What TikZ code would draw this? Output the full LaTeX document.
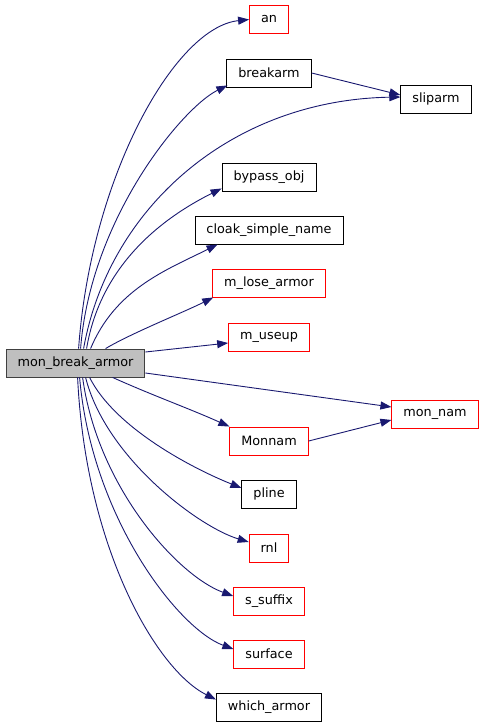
\documentclass[tikz,border=0pt]{standalone}
\usepackage{fontspec}
\setmainfont{DejaVu Sans}
\usetikzlibrary{calc,arrows.meta}

\begin{document}
\begin{tikzpicture}[x=1pt, y=-1pt,
    every node/.style={rectangle, draw, line width=0.9pt, inner xsep=11.5pt, minimum height=28pt, fill=white, font=\fontsize{12.8}{14}\selectfont},
    ext/.style={draw=red},
    call/.style={draw={rgb,255:red,25;green,25;blue,112}, line width=0.9pt, -{Triangle[length=11pt,width=8pt]}}]
    \useasboundingbox (0,0) rectangle (485,728);
    \node[fill={rgb,255:red,191;green,191;blue,191}, draw={rgb,255:red,64;green,64;blue,64}] (mba) at (75.5,363) {mon\_break\_armor};
    \node[ext] (an) at (269,19.5) {an};
    \node (breakarm) at (269,73) {breakarm};
    \node (sliparm) at (436,99) {sliparm};
    \node (bypass) at (269,177) {bypass\_obj};
    \node (cloak) at (269,230) {cloak\_simple\_name};
    \node[ext] (mlose) at (269,283) {m\_lose\_armor};
    \node[ext] (museup) at (269,337) {m\_useup};
    \node[ext] (monnam) at (435,414) {mon\_nam};
    \node[ext] (Monnam) at (269,441) {Monnam};
    \node (pline) at (269,494) {pline};
    \node[ext] (rnl) at (269,548) {rnl};
    \node[ext] (ssuffix) at (269,601) {s\_suffix};
    \node[ext] (surface) at (269,654) {surface};
    \node (which) at (269,707) {which\_armor};
    % calls going up
    \draw[call] ($(mba.north west)+(73,0)$) .. controls +(12,-170) and +(-75,8) .. (an.west);
    \draw[call] ($(mba.north west)+(75,0)$) .. controls +(10,-130) and +(-45,22) .. ($(breakarm.south west)+(1,-2)$);
    \draw[call] ($(mba.north west)+(78,0)$) .. controls +(25,-140) and +(-170,3) .. ($(sliparm.west)+(0,-2)$);
    \draw[call] ($(mba.north west)+(81,0)$) .. controls +(15,-90) and +(-50,25) .. ($(bypass.south west)+(0,-3)$);
    \draw[call] ($(mba.north west)+(85,0)$) .. controls +(25,-60) and +(-50,25) .. ($(cloak.south west)+(23,0)$);
    \draw[call] ($(mba.north west)+(100,0)$) .. controls +(25,-15) and +(-30,15) .. ($(mlose.south west)+(1,0)$);
    \draw[call] ($(mba.east)+(0,-11)$) -- ($(museup.west)+(0,6)$);
    \draw[call] ($(mba.east)+(0,10)$) -- ($(monnam.west)+(0,-7)$);
    % calls going down
    \draw[call] ($(mba.south west)+(107,0)$) .. controls +(40,18) and +(-40,-18) .. (Monnam.north west);
    \draw[call] ($(mba.south west)+(84,0)$) .. controls +(25,50) and +(-50,-20) .. ($(pline.west)+(0,-6)$);
    \draw[call] ($(mba.south west)+(80,0)$) .. controls +(20,80) and +(-50,-15) .. ($(rnl.west)+(0,-6)$);
    \draw[call] ($(mba.south west)+(77,0)$) .. controls +(15,110) and +(-55,-20) .. ($(ssuffix.west)+(0,-5)$);
    \draw[call] ($(mba.south west)+(74,0)$) .. controls +(12,140) and +(-55,-20) .. ($(surface.west)+(0,-5)$);
    \draw[call] ($(mba.south west)+(72,0)$) .. controls +(8,170) and +(-60,-30) .. ($(which.north west)+(0,7)$);
    % second level
    \draw[call] (breakarm.east) -- ($(sliparm.west)+(0,-4)$);
    \draw[call] (Monnam.east) -- ($(monnam.west)+(0,6)$);
\end{tikzpicture}
\end{document}
